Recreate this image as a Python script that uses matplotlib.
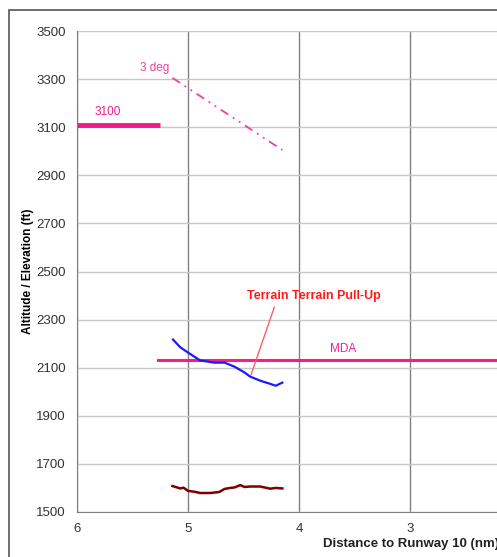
import matplotlib.pyplot as plt
from matplotlib.patches import Rectangle

plt.rcParams['font.family'] = ['Liberation Sans', 'DejaVu Sans']

# step-down altitude and 3 degree path
alt3100_x = [6.0, 5.25]
alt3100_y = [3108, 3108]
glide_x = [5.14, 4.15]
glide_y = [3305, 3005]
mda_x = [5.27, 1.5]
mda_y = [2133, 2133]

# aircraft track
track_x = [5.135, 5.07, 5.0, 4.89, 4.76, 4.67, 4.58, 4.49, 4.44, 4.35, 4.26, 4.21, 4.15]
track_y = [2217, 2185, 2163, 2130, 2121, 2121, 2104, 2080, 2063, 2046, 2033, 2025, 2038]

# terrain under the track
terr_x = [5.14, 5.07, 5.04, 5.0, 4.94, 4.89, 4.80, 4.72, 4.67, 4.62, 4.58, 4.53, 4.49, 4.44, 4.35, 4.26, 4.21, 4.15]
terr_y = [1608, 1598, 1601, 1588, 1584, 1579, 1579, 1583, 1596, 1600, 1602, 1612, 1604, 1606, 1606, 1597, 1600, 1598]

fig = plt.figure(figsize=(4.97, 5.57), dpi=100)
ax = fig.add_axes([77/497, (557-512)/557, 444/497, 481/557])

ax.set_xlim(6, 2)
ax.set_ylim(1500, 3500)
ax.set_xticks([6, 5, 4, 3])
ax.set_yticks(range(1500, 3501, 200))
ax.grid(axis='y', color='#c8c8c8', lw=1)
ax.grid(axis='x', color='#808080', lw=1)
ax.set_axisbelow(True)
for s in ['top', 'right']:
    ax.spines[s].set_visible(False)
for s in ['left', 'bottom']:
    ax.spines[s].set_color('#808080')
ax.tick_params(length=0, labelsize=9.5, colors='#333333', pad=8)

ax.plot(alt3100_x, alt3100_y, color='#ee1a8a', lw=3.5, solid_capstyle='butt')
ax.plot(glide_x, glide_y, color='#f0409a', lw=1.3, dashes=[5, 3, 1, 3, 1, 3])
ax.plot(mda_x, mda_y, color='#ff1a8c', lw=2.2)
ax.plot(track_x, track_y, color='#1a1aff', lw=1.6)
ax.plot(terr_x, terr_y, color='#800000', lw=1.8)

ax.text(5.72, 3150, '3100', color='#ee1a8a', fontsize=8.5, ha='center')
ax.text(5.3, 3335, '3 deg', color='#f0409a', fontsize=8.5, ha='center')
ax.text(3.60, 2165, 'MDA', color='#ff1a8c', fontsize=8.5, ha='center')
ax.annotate('Terrain Terrain Pull-Up', xy=(4.44, 2060), xytext=(4.47, 2400),
            color='#ff1a1a', fontsize=9, fontweight='bold', ha='left', va='center',
            arrowprops=dict(arrowstyle='-', color='#ff6060', lw=1,
                            relpos=(0.22, 0.0)))

ax.set_ylabel('Altitude / Elevation (ft)', fontsize=8.5, fontweight='bold')
ax.yaxis.set_label_coords((34 - 77) / 444, 0.5)
ax.set_xlabel('Distance to Runway 10 (nm)', fontsize=9.5, fontweight='bold',
              color='#222222')
ax.xaxis.label.set_horizontalalignment('left')
ax.xaxis.set_label_coords((323 - 77) / 444, -0.055)

# outer chart border (cut by the image edge on the right and bottom)
fig.patches.append(Rectangle((9/497, -0.1), 1.2, 1.1 - 10/557,
                             transform=fig.transFigure, fill=False,
                             edgecolor='#555555', lw=1.2))

fig.savefig('out.png', dpi=100)
